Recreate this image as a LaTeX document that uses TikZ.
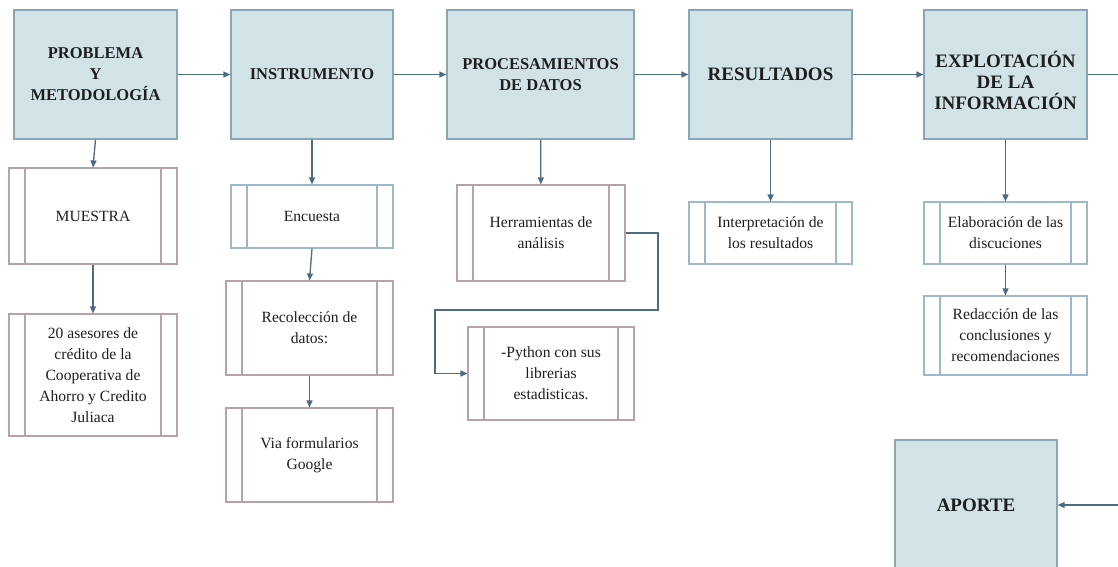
\documentclass[tikz,border=0pt]{standalone}
\usepackage{fontspec}
\setmainfont{Liberation Serif}
\usetikzlibrary{arrows.meta,calc}
\definecolor{boxfill}{HTML}{D2E3E8}
\definecolor{boxline}{HTML}{8AA5B5}
\definecolor{arr}{HTML}{4F6B82}
\definecolor{pinkline}{HTML}{B9A2A6}
\definecolor{blueline}{HTML}{9DB8CC}
\definecolor{txt}{HTML}{1E1E1E}
\tikzset{
 mainbox/.style={draw=boxline, fill=boxfill, line width=1.2pt, minimum width=163pt, minimum height=129pt, align=center, inner sep=0pt, font=\fontsize{16.5}{21}\selectfont\bfseries, text=txt},
 bigtext/.style={font=\fontsize{19}{21}\selectfont\bfseries},
 procbox/.style={draw=#1, line width=1.1pt, fill=white, align=center, inner sep=0pt, font=\fontsize{15.6}{21}\selectfont, text=txt,
   path picture={\draw[#1, line width=1.1pt] ([xshift=16pt]path picture bounding box.north west) -- ([xshift=16pt]path picture bounding box.south west) ([xshift=-16pt]path picture bounding box.north east) -- ([xshift=-16pt]path picture bounding box.south east);}},
 conn/.style={draw=arr, line width=1.3pt, -{Triangle[length=7pt,width=6pt]}},
}
\begin{document}
\begin{tikzpicture}[x=1pt,y=-1pt]
\useasboundingbox (0,0) rectangle (1118,566);
\fill[white] (0,0) rectangle (1118,566);
% main boxes
\node[mainbox] (prob) at (95.5,74.5) {PROBLEMA\\Y\\METODOLOGÍA};
\node[mainbox, minimum width=162pt] (inst) at (312,74.5) {INSTRUMENTO};
\node[mainbox, minimum width=187pt] (proc) at (540.5,74.5) {PROCESAMIENTOS\\DE DATOS};
\node[mainbox, bigtext] (res) at (770.5,74.5) {RESULTADOS};
\node[mainbox, bigtext] (expl) at (1005.5,74.5) {};
\node[bigtext, text=txt, align=center, inner sep=0pt] (explt) at (1005.5,80) {EXPLOTACIÓN\\DE LA\\INFORMACIÓN};
\node[mainbox, bigtext, minimum width=162pt, minimum height=130pt] (aporte) at (976,505) {APORTE};
% sub boxes
\node[procbox=pinkline, minimum width=168pt, minimum height=96pt] (mue) at (93,216) {MUESTRA};
\node[procbox=pinkline, minimum width=168pt, minimum height=122pt] (ases) at (93,375) {20 asesores de\\crédito de la\\Cooperativa de\\Ahorro y Credito\\Juliaca};
\node[procbox=blueline, minimum width=162pt, minimum height=63pt] (enc) at (312,216.5) {Encuesta};
\node[procbox=pinkline, minimum width=167pt, minimum height=94pt] (rec) at (309.5,328) {Recolección de\\datos:};
\node[procbox=pinkline, minimum width=167pt, minimum height=94pt] (via) at (309.5,455) {Via formularios\\Google};
\node[procbox=pinkline, minimum width=168pt, minimum height=96pt] (her) at (541,233) {Herramientas de\\análisis};
\node[procbox=pinkline, minimum width=166pt, minimum height=93pt] (py) at (551,373.5) {-Python con sus\\librerias\\estadisticas.};
\node[procbox=blueline, minimum width=163pt, minimum height=62pt] (int) at (770.5,233) {Interpretación de\\los resultados};
\node[procbox=blueline, minimum width=163pt, minimum height=62pt] (ela) at (1005.5,233) {Elaboración de las\\discuciones};
\node[procbox=blueline, minimum width=163pt, minimum height=79pt] (red) at (1005.5,335.5) {Redacción de las\\conclusiones y\\recomendaciones};
% horizontal connectors
\draw[conn] (prob) -- (inst);
\draw[conn] (inst) -- (proc);
\draw[conn] (proc) -- (res);
\draw[conn] (res) -- (expl);
\coordinate (r1) at (1122,74.5);
\coordinate (r2) at (1122,505);
\draw[conn] (expl.east) -- (r1) -- (r2) -- (aporte.east);
% vertical connectors
\draw[conn] (prob.south) -- (mue.north);
\draw[conn] (mue) -- (ases);
\draw[conn] (inst) -- (enc);
\draw[conn] (enc.south) -- (rec.north);
\draw[conn] (rec) -- (via);
\draw[conn] (proc) -- (her);
\draw[conn] (res) -- (int);
\draw[conn] (expl) -- (ela);
\draw[conn] (ela) -- (red);
% herramientas -> python
\coordinate (h1) at (658,233);
\coordinate (h2) at (658,310);
\coordinate (h3) at (435,310);
\draw[conn] (her.east) -- (h1) -- (h2) -- (h3) -- (h3 |- py.west) -- (py.west);
\end{tikzpicture}
\end{document}
